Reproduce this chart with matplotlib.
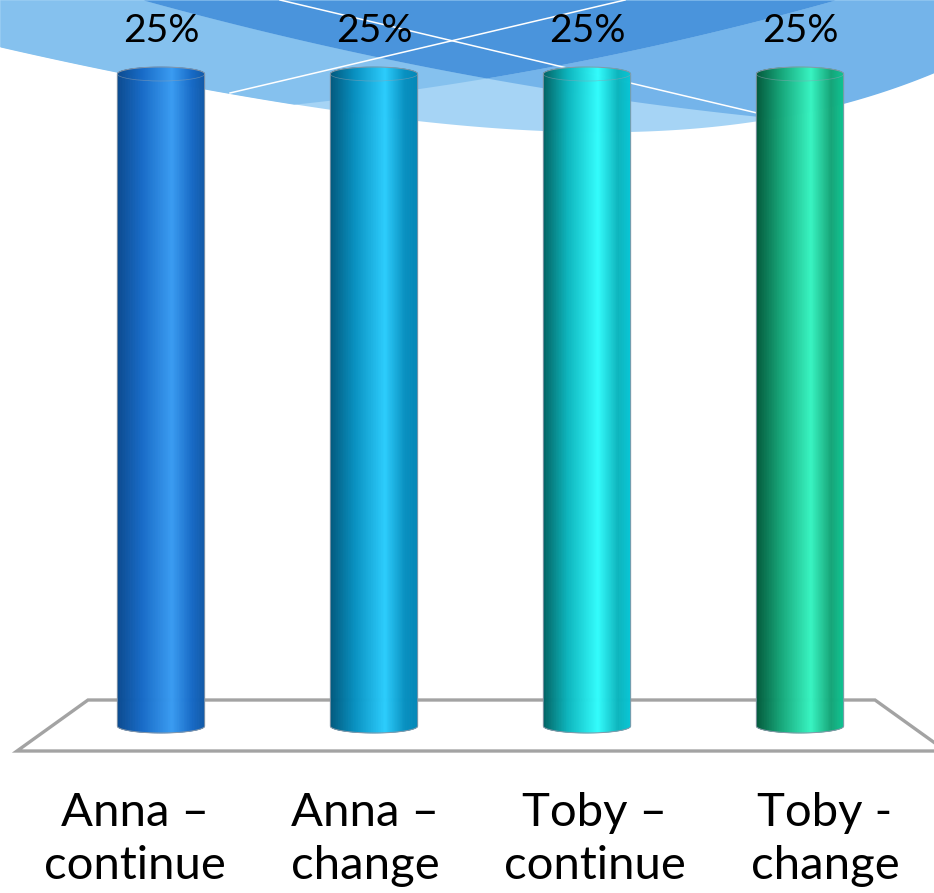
import numpy as np
import matplotlib
matplotlib.use("Agg")
import matplotlib.pyplot as plt
from matplotlib.patches import Arc, Polygon
from matplotlib.collections import PolyCollection
from matplotlib.colors import to_rgb
import matplotlib.transforms as mtransforms

# ---------------- data ----------------
categories = ["Anna –\ncontinue", "Anna –\nchange", "Toby –\ncontinue", "Toby -\nchange"]
values = [25, 25, 25, 25]

# cylinder colour stops (left edge, mid, highlight, right edge)
dark_cols = ["#0b4a8e", "#02587c", "#026262", "#03583a"]
mid_cols = ["#176ac6", "#0890c0", "#0db5bd", "#16a578"]
hi_cols = ["#3a9cf2", "#2ccdfd", "#33fdfd", "#38f5c2"]
right_cols = ["#125aa8", "#0488b8", "#08c6d6", "#0fc492"]

plt.rcParams["font.family"] = ["Lato", "DejaVu Sans"]

W, H = 934, 893
fig = plt.figure(figsize=(W / 100, H / 100), dpi=100)
fig.patch.set_facecolor("white")

# ---------------- background decoration ----------------
bg = fig.add_axes([0, 0, 1, 1], zorder=0)
bg.set_xlim(0, W)
bg.set_ylim(H, 0)
bg.axis("off")

xs = np.linspace(0, W, 900)


def fit(pts, deg):
    px, py = zip(*pts)
    return np.polyval(np.polyfit(px, py, deg), xs)


outer = fit([(0, 47), (230, 93), (310, 107), (450, 125), (560, 132), (680, 128),
             (760, 121), (850, 103), (934, 72)], 4)
c1 = fit([(140, 0), (310, 40), (420, 65), (488, 80), (620, 100), (780, 118)], 2)
c3 = fit([(250, 108), (310, 101), (420, 91), (488, 80), (580, 59), (680, 37), (840, 0)], 2)

col_light = "#a6d4f5"
col_left = "#85c1ee"
col_right = "#74b4ea"
col_dark = "#4a94dc"

bg.fill_between(xs, 0, outer, color=col_light, lw=0)
lo = np.maximum(c1, 0)
up = np.minimum(c3, outer)
bg.fill_between(xs, lo, up, where=up > lo, color=col_left, lw=0, interpolate=True)
lo = np.maximum(c3, 0)
up = np.minimum(c1, outer)
bg.fill_between(xs, lo, up, where=up > lo, color=col_right, lw=0, interpolate=True)
up = np.minimum(np.minimum(c1, c3), outer)
bg.fill_between(xs, 0, up, where=up > 0, color=col_dark, lw=0, interpolate=True)
bg.plot([230, 625], [93, 0], color="white", lw=1.1)
bg.plot([280, 757], [0, 113], color="white", lw=1.1)

# ---------------- chart ----------------
L, R = 54.5, 906.5
top_px, base_px = 74, 726          # pixel rows of value max and of value 0
vmax = max(values)
ytop = vmax * base_px / (base_px - top_px)   # axes reaches figure top
ax = fig.add_axes([L / W, 1 - base_px / H, (R - L) / W, base_px / H], zorder=1)
ax.patch.set_alpha(0)
ax.axis("off")
x = np.arange(len(categories))
bars = ax.bar(x, values, width=0.41, color="none", edgecolor="none")
ax.set_xlim(-0.5, len(categories) - 0.5)
ax.set_ylim(0, ytop)
ry = 7 / (base_px - top_px) * vmax


def px2x(p):
    return (p - L) / (R - L) * len(categories) - 0.5


def px2y(p):
    return (base_px - p) / (base_px - top_px) * vmax


# floor
floor = Polygon([(px2x(88), px2y(700)), (px2x(875), px2y(700)),
                 (px2x(946), px2y(751)), (px2x(17), px2y(751))],
                closed=True, facecolor="white", edgecolor="#a3a3a3", lw=2.4,
                clip_on=False, zorder=1)
ax.add_patch(floor)

NS = 140
stops = [0.0, 0.28, 0.63, 0.86, 1.0]
for i, rect in enumerate(bars):
    x0, w, h = rect.get_x(), rect.get_width(), rect.get_height()
    cx = x0 + w / 2
    cols = [to_rgb(dark_cols[i]), to_rgb(mid_cols[i]), to_rgb(hi_cols[i]),
            to_rgb(mid_cols[i]), to_rgb(right_cols[i])]
    edges = np.linspace(x0, x0 + w, NS + 1)
    u = np.clip((edges - cx) / (w / 2), -1, 1)
    dy = ry * np.sqrt(1 - u ** 2)
    polys, fcs = [], []
    for k in range(NS):
        polys.append([(edges[k], -dy[k]), (edges[k + 1], -dy[k + 1]),
                      (edges[k + 1], h + dy[k + 1]), (edges[k], h + dy[k])])
        tm = (k + 0.5) / NS
        fcs.append(tuple(np.interp(tm, stops, [c[j] for c in cols]) for j in range(3)))
    pc = PolyCollection(polys, facecolors=fcs, edgecolors=fcs, linewidths=0.4,
                        zorder=3, clip_on=False)
    ax.add_collection(pc)

    th_b = np.linspace(np.pi, 2 * np.pi, 80)
    th_t = np.linspace(0, np.pi, 80)
    verts = [(cx + w / 2 * np.cos(a), ry * np.sin(a)) for a in th_b]
    verts += [(x0 + w, h)]
    verts += [(cx + w / 2 * np.cos(a), h + ry * np.sin(a)) for a in th_t]
    body = Polygon(verts, closed=True, facecolor="none", edgecolor="#8797a8",
                   lw=0.7, zorder=4, clip_on=False)
    ax.add_patch(body)
    cap = Arc((cx, h), w, 2 * ry, theta1=180, theta2=360,
              edgecolor="#8fa0b0", lw=0.5, alpha=0.6, zorder=5, clip_on=False)
    ax.add_patch(cap)
    ax.annotate(f"{values[i]}%", xy=(cx, h), xytext=(0, 23.0),
                textcoords="offset points", ha="center", va="baseline",
                fontsize=28, color="black", annotation_clip=False)

# category labels sit on the perspective front row (wider spacing than bars)
label_x = px2x(135) + x * (230 / 213)
tr = mtransforms.blended_transform_factory(ax.transData, fig.transFigure)
for i, lab in enumerate(categories):
    ax.text(label_x[i], 1 - 792 / H, lab, transform=tr, ha="center", va="top",
            fontsize=34, linespacing=1.32, color="black", clip_on=False)

ax.set_xlim(-0.5, len(categories) - 0.5)
ax.set_ylim(0, ytop)
fig.savefig("out.png", dpi=100)
